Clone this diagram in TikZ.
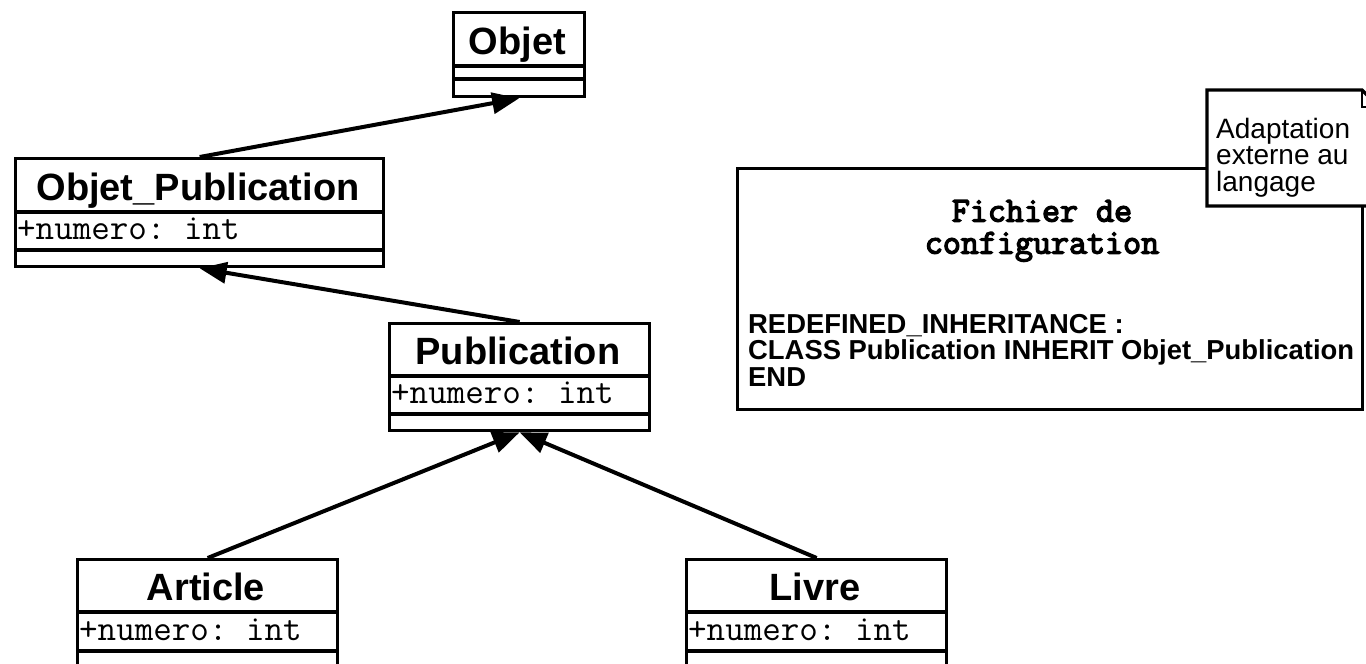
\documentclass[tikz,border=0pt]{standalone}
\usepackage{fontspec}
\setmainfont{Liberation Sans}
\newfontfamily\codefont{Latin Modern Mono}
\newfontfamily\codebold[FakeBold=4]{Latin Modern Mono}
\usetikzlibrary{arrows.meta}
\frenchspacing

\begin{document}
\begin{tikzpicture}[x=1pt,y=-1pt,
  classbox/.style={draw, line width=3.3pt, fill=white, anchor=north west, inner sep=0pt},
  classname/.style={font=\fontsize{38}{40}\selectfont\bfseries, inner sep=0pt, anchor=base},
  attr/.style={font=\codefont\fontsize{36}{36}\selectfont, inner sep=0pt, anchor=base west},
  sep/.style={line width=3.3pt},
  inherit/.style={line width=4pt, -{Triangle[length=27pt,width=21pt]}},
  notetext/.style={font=\fontsize{28}{26.5}\selectfont, inner sep=0pt, align=left},
]
\useasboundingbox (0,0) rectangle (1366,664);
\clip (0,0) rectangle (1366,664);

% ---- class Objet
\node[classbox, minimum width=131pt, minimum height=84pt] (objet) at (452,11) {};
\node[classname] (objet-name) at (517.5,54) {Objet};
\draw[sep] (objet.west |- 0,66) -- (objet.east |- 0,66);
\draw[sep] (objet.west |- 0,79) -- (objet.east |- 0,79);

% ---- class Objet_Publication
\node[classbox, minimum width=368pt, minimum height=108pt] (objpub) at (14,157) {};
\node[classname] (objpub-name) at (198,200) {Objet\_Publication};
\draw[sep] (objpub.west |- 0,212) -- (objpub.east |- 0,212);
\node[attr] (objpub-attr) at (17,239) {+numero: int};
\draw[sep] (objpub.west |- 0,250) -- (objpub.east |- 0,250);

% ---- class Publication
\node[classbox, minimum width=260pt, minimum height=107pt] (pub) at (388,322) {};
\node[classname] (pub-name) at (518,364) {Publication};
\draw[sep] (pub.west |- 0,376) -- (pub.east |- 0,376);
\node[attr] (pub-attr) at (391,403) {+numero: int};
\draw[sep] (pub.west |- 0,414) -- (pub.east |- 0,414);

% ---- class Article
\node[classbox, minimum width=260pt, minimum height=117pt] (article) at (76,558) {};
\node[classname] (article-name) at (206,600) {Article};
\draw[sep] (article.west |- 0,612) -- (article.east |- 0,612);
\node[attr] (article-attr) at (79,640) {+numero: int};
\draw[sep] (article.west |- 0,651) -- (article.east |- 0,651);

% ---- class Livre
\node[classbox, minimum width=260pt, minimum height=117pt] (livre) at (685,558) {};
\node[classname] (livre-name) at (815,600) {Livre};
\draw[sep] (livre.west |- 0,612) -- (livre.east |- 0,612);
\node[attr] (livre-attr) at (688,640) {+numero: int};
\draw[sep] (livre.west |- 0,651) -- (livre.east |- 0,651);

% ---- inheritance links
\draw[inherit] (objpub.north) -- (objet.south);
\draw[inherit] (pub.north) -- (objpub.south);
\draw[inherit] (article.north) -- (pub.south);
\draw[inherit] (livre.north) -- (pub.south);

% ---- configuration file
\node[classbox, minimum width=625pt, minimum height=241pt] (config) at (736,167) {};
\node[font=\codebold\fontsize{35}{32}\selectfont, inner sep=0pt, align=center, anchor=north]
  (config-title) at (1042,200) {Fichier de\\configuration};
\node[font=\bfseries\fontsize{27.4}{26.5}\selectfont, inner sep=0pt, align=left, anchor=north west]
  (config-body) at (748,314) {REDEFINED\_INHERITANCE :\\CLASS Publication INHERIT Objet\_Publication\\END};

% ---- note with folded corner
\filldraw[fill=white, line width=3.3pt] (1207,90) -- (1362,90) -- (1379,107) -- (1379,206) -- (1207,206) -- cycle;
\draw[line width=2pt] (1362,90) -- (1362,107) -- (1379,107);
\node[notetext, anchor=north west] (note) at (1216,118) {Adaptation\\externe au\\langage};
\end{tikzpicture}
\end{document}
